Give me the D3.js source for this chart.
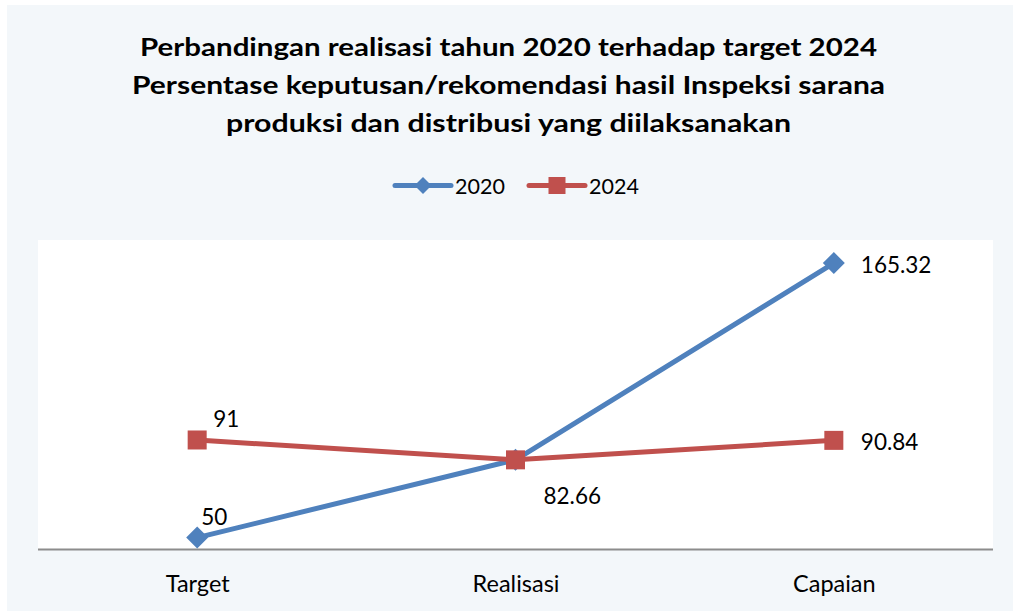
<!DOCTYPE html>
<html>
<head>
<meta charset="utf-8">
<script src="https://cdn.jsdelivr.net/npm/d3@7"></script>
<style>
  html, body { margin: 0; padding: 0; background: #ffffff; }
  svg { display: block; }
  text { font-family: Lato, "Open Sans", "DejaVu Sans", sans-serif; fill: #000; }
</style>
</head>
<body>
<svg id="chart" width="1013" height="612"></svg>
<script>
// ---- data ----
const categories = ["Target", "Realisasi", "Capaian"];
const seriesNames = ["2020", "2024"];
const values2020 = [50, 82.66, 165.32];
const values2024 = [91, 82.66, 90.84];
const titleLines = [
  "Perbandingan realisasi tahun 2020 terhadap target 2024",
  "Persentase keputusan/rekomendasi hasil Inspeksi sarana",
  "produksi dan distribusi yang diilaksanakan"
];
const yDomain = [45, 175];

// ---- layout / style (not data) ----
const W = 1013, H = 612;
const plot = { left: 38, right: 993, top: 240, bottom: 549.5 };
const colors = { "2020": "#4F81BD", "2024": "#C0504D" };
const titleWidths = [737, 753, 565];
// label placement per series & category: [dx, dy] from point, null = hidden
const labelOffsets = {
  "2020": [[4, -13], null, [27, 10]],
  "2024": [[16, -13], [28, 44], [27, 10]]
};

const svg = d3.select("#chart");

// background
svg.append("rect").attr("x", 7).attr("y", 5).attr("width", W - 7).attr("height", H - 6)
  .attr("fill", "#f3f7fa");
svg.append("rect").attr("x", plot.left).attr("y", plot.top)
  .attr("width", plot.right - plot.left).attr("height", plot.bottom - plot.top)
  .attr("fill", "#ffffff");

// title
svg.append("g").selectAll("text").data(titleLines).join("text")
  .attr("x", W / 2 + 2).attr("y", (d, i) => 55.5 + i * 38.3)
  .attr("text-anchor", "middle")
  .attr("textLength", (d, i) => titleWidths[i])
  .attr("lengthAdjust", "spacingAndGlyphs")
  .style("font-weight", "700").style("font-size", "25.5px")
  .text(d => d);

// scales
const x = d3.scalePoint().domain(categories).range([plot.left, plot.right]).padding(0.5);
const y = d3.scaleLinear().domain(yDomain).range([plot.bottom, plot.top]);

// x axis
const xAxis = svg.append("g").attr("transform", `translate(0,${plot.bottom})`)
  .call(d3.axisBottom(x).tickSize(0).tickPadding(0));
xAxis.select(".domain").attr("stroke", "#8c8c8c").attr("stroke-width", 2)
  .attr("d", `M${plot.left},0H${plot.right}`);
xAxis.selectAll(".tick text")
  .attr("y", 42.5).attr("dy", null)
  .style("font-size", "23.5px").style("font-family", "Lato, 'Open Sans', sans-serif")
  .attr("fill", "#000");

// series
const seriesData = [
  { name: "2020", values: values2020, shape: "diamond" },
  { name: "2024", values: values2024, shape: "square" }
];
const line = d3.line().x((d, i) => x(categories[i])).y(d => y(d));

function marker(g, shape, cx, cy, color, size) {
  if (shape === "diamond") {
    const r = size / 2;
    g.append("path").attr("d", `M${cx},${cy - r}L${cx + r},${cy}L${cx},${cy + r}L${cx - r},${cy}Z`)
      .attr("fill", color);
  } else {
    g.append("rect").attr("x", cx - size / 2).attr("y", cy - size / 2)
      .attr("width", size).attr("height", size).attr("fill", color);
  }
}

seriesData.forEach(s => {
  const g = svg.append("g");
  g.append("path").datum(s.values).attr("d", line)
    .attr("fill", "none").attr("stroke", colors[s.name]).attr("stroke-width", 5)
    .attr("stroke-linejoin", "round");
  s.values.forEach((v, i) => {
    marker(g, s.shape, x(categories[i]), y(v), colors[s.name], s.shape === "diamond" ? 22 : 19);
  });
});

// data labels
seriesData.forEach(s => {
  s.values.forEach((v, i) => {
    const off = labelOffsets[s.name][i];
    if (!off) return;
    svg.append("text")
      .attr("x", x(categories[i]) + off[0]).attr("y", y(v) + off[1])
      .style("font-size", "22.5px")
      .text(String(v));
  });
});

// legend
const legend = svg.append("g");
const legendItems = [
  { name: seriesNames[0], shape: "diamond", x0: 395 },
  { name: seriesNames[1], shape: "square", x0: 529 }
];
legendItems.forEach(it => {
  const c = colors[it.name];
  legend.append("line").attr("x1", it.x0).attr("x2", it.x0 + 56)
    .attr("y1", 185.5).attr("y2", 185.5)
    .attr("stroke", c).attr("stroke-width", 5).attr("stroke-linecap", "round");
  marker(legend, it.shape, it.x0 + 28, 185.5, c, 17);
  legend.append("text").attr("x", it.x0 + 60).attr("y", 193.5)
    .style("font-size", "21.5px").text(it.name);
});
</script>
</body>
</html>
